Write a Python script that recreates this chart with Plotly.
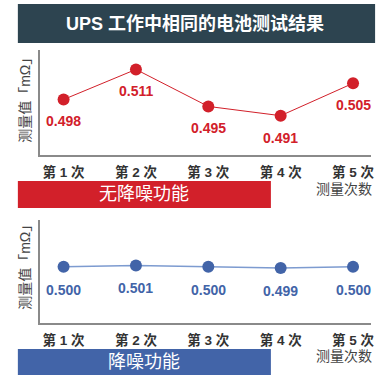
import plotly.graph_objects as go

# Measurement data
runs = ["第 1 次", "第 2 次", "第 3 次", "第 4 次", "第 5 次"]
without_nr = [0.498, 0.511, 0.495, 0.491, 0.505]
with_nr = [0.500, 0.501, 0.500, 0.499, 0.500]

title_text = "UPS 工作中相同的电池测试结果"
band_top_text = "无降噪功能"
band_bottom_text = "降噪功能"
y_title = "测量值「mΩ」"
x_title = "测量次数"

RED = "#d2202a"
BLUE = "#4264a8"
BLUE_LINE = "#7d9bd0"
DARK = "#2d4450"
AXIS = "#8a8a8a"
TXT = "#333333"
FONT = "Liberation Sans, Noto Sans CJK SC, sans-serif"

W, H = 390, 375


def px(x):
    return x / W


def py(y):
    return 1 - y / H


fig = go.Figure()

fig.add_trace(go.Scatter(
    x=runs, y=without_nr, mode="lines+markers",
    line=dict(color=RED, width=1),
    marker=dict(color=RED, size=12),
    xaxis="x", yaxis="y", hoverinfo="skip",
))
fig.add_trace(go.Scatter(
    x=runs, y=with_nr, mode="lines+markers",
    line=dict(color=BLUE_LINE, width=1.5),
    marker=dict(color=BLUE, size=12),
    xaxis="x2", yaxis="y2", hoverinfo="skip",
))

annotations = []
for xr, v in zip(runs, without_nr):
    annotations.append(dict(
        x=xr, y=v, xref="x", yref="y", text=f"{v:.3f}", showarrow=False,
        yshift=-22, font=dict(family=FONT, size=14, color=RED, weight="bold"),
    ))
for xr, v in zip(runs, with_nr):
    annotations.append(dict(
        x=xr, y=v, xref="x2", yref="y2", text=f"{v:.3f}", showarrow=False,
        yshift=-23, font=dict(family=FONT, size=14, color=BLUE, weight="bold"),
    ))

# title and band captions
annotations.append(dict(
    x=px(197), y=py(24), xref="paper", yref="paper", text=title_text,
    showarrow=False, xanchor="center", yanchor="middle",
    font=dict(family=FONT, size=18, color="white", weight="bold"),
))
annotations.append(dict(
    x=px(145), y=py(194), xref="paper", yref="paper", text=band_top_text,
    showarrow=False, xanchor="center", yanchor="middle",
    font=dict(family=FONT, size=18, color="white"),
))
annotations.append(dict(
    x=px(145), y=py(362), xref="paper", yref="paper", text=band_bottom_text,
    showarrow=False, xanchor="center", yanchor="middle",
    font=dict(family=FONT, size=18, color="white"),
))
# axis titles
for yc in (97, 264):
    annotations.append(dict(
        x=px(25), y=py(yc), xref="paper", yref="paper", text=y_title,
        showarrow=False, textangle=-90, xanchor="center", yanchor="middle",
        font=dict(family=FONT, size=14, color="#444444"),
    ))
for yc in (189, 356):
    annotations.append(dict(
        x=px(377), y=py(yc), xref="paper", yref="paper", text=x_title,
        showarrow=False, xanchor="right", yanchor="middle",
        font=dict(family=FONT, size=14, color="#444444"),
    ))

shapes = [
    dict(type="rect", xref="paper", yref="paper", x0=px(18), x1=px(378),
         y0=py(43), y1=py(4), fillcolor=DARK, line=dict(width=0), layer="below"),
    dict(type="rect", xref="paper", yref="paper", x0=px(18), x1=px(273),
         y0=py(208), y1=py(181), fillcolor=RED, line=dict(width=0), layer="below"),
    dict(type="rect", xref="paper", yref="paper", x0=px(18), x1=px(273),
         y0=py(376), y1=py(349), fillcolor=BLUE, line=dict(width=0), layer="below"),
]

xaxis_common = dict(
    type="category", range=[-0.33, 4.25], showgrid=False, zeroline=False,
    showline=True, linecolor=AXIS, linewidth=1.5, ticks="",
    tickfont=dict(family=FONT, size=13.5, color=TXT, weight="bold"),
    ticklabelstandoff=4, fixedrange=True,
)
yaxis_common = dict(
    showgrid=False, zeroline=False, showline=True, linecolor=AXIS,
    linewidth=1.5, showticklabels=False, ticks="", fixedrange=True,
)

fig.update_layout(
    width=W, height=H,
    margin=dict(l=0, r=0, t=0, b=0),
    paper_bgcolor="white", plot_bgcolor="white",
    showlegend=False,
    xaxis=dict(**xaxis_common, domain=[px(40), px(374)], anchor="y"),
    yaxis=dict(**yaxis_common, domain=[py(155), py(50)], range=[0.474, 0.5194], anchor="x"),
    xaxis2=dict(**xaxis_common, domain=[px(40), px(374)], anchor="y2"),
    yaxis2=dict(**yaxis_common, domain=[py(323), py(220)], range=[0.4567, 0.5359], anchor="x2"),
    annotations=annotations,
    shapes=shapes,
)

fig.write_html("out.html", config={"displayModeBar": False})
